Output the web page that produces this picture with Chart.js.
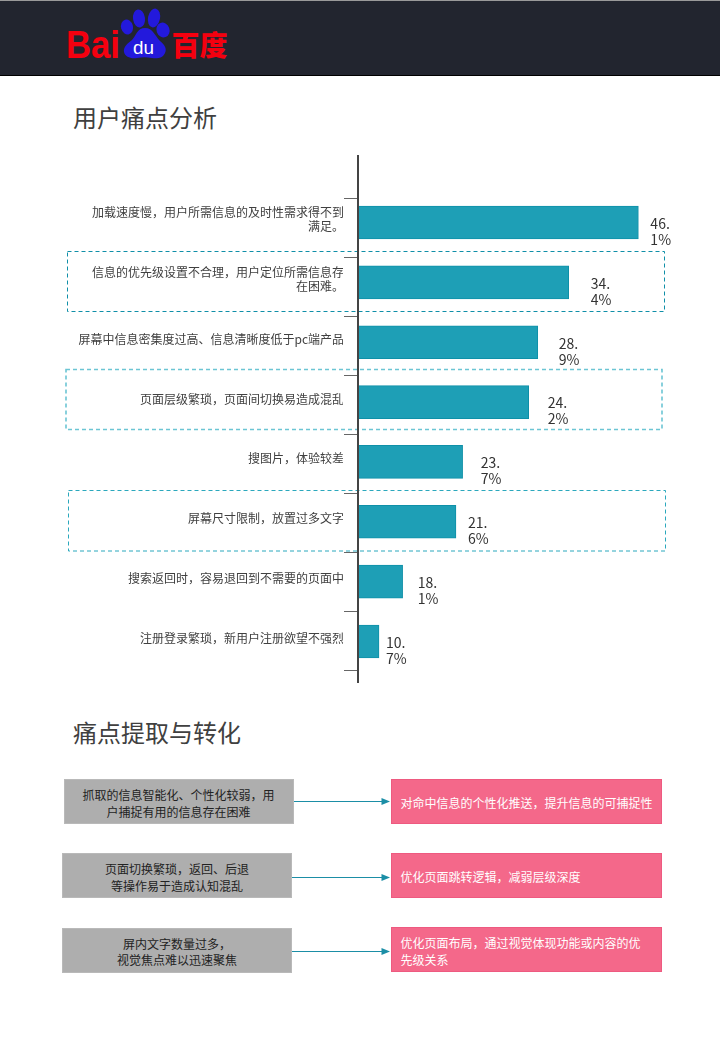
<!DOCTYPE html>
<html lang="zh">
<head>
<meta charset="utf-8">
<title>用户痛点分析</title>
<script src="https://cdn.jsdelivr.net/npm/chart.js@4/dist/chart.umd.js"></script>
<style>
  html, body { margin: 0; padding: 0; background: #fff; }
  body { position: relative; width: 720px; height: 1040px; overflow: hidden;
    font-family: "Noto Sans CJK SC", sans-serif; }
  #header { position: absolute; left: 0; top: 0; width: 720px; height: 74px; background: #22252f;
    border-top: 1px solid #9a9a9a; border-bottom: 1px solid #000; }
  #deco { position: absolute; left: 0; top: 0; }
  #chartBox { position: absolute; left: 0; top: 140px; width: 720px; height: 560px; }
  .title { position: absolute; left: 73px; font-size: 24px; line-height: 32px; color: #404040; font-weight: 400; }
  .box { position: absolute; box-sizing: border-box; height: 45px; font-size: 12px; line-height: 16.5px; display: flex; align-items: center; }
  .from { background: #aeaeae; border: 1px solid #b9b9b9; color: #222; justify-content: center; text-align: center; padding-top: 4px; }
  .to { background: #f4688a; border: 1px solid #ee5a80; color: #fff; padding: 4px 0 0 9px; }
</style>
</head>
<body>
<div id="header"></div>
<svg id="deco" width="720" height="1040" xmlns="http://www.w3.org/2000/svg"></svg>
<div class="title" style="top:101px">用户痛点分析</div>
<div class="title" style="top:716px">痛点提取与转化</div>
<div id="chartBox"><canvas id="chart" width="720" height="560"></canvas></div>
<script>
const categories = [
  ["加载速度慢，用户所需信息的及时性需求得不到", "满足。"],
  ["信息的优先级设置不合理，用户定位所需信息存", "在困难。"],
  "屏幕中信息密集度过高、信息清晰度低于pc端产品",
  "页面层级繁琐，页面间切换易造成混乱",
  "搜图片，体验较差",
  "屏幕尺寸限制，放置过多文字",
  "搜索返回时，容易退回到不需要的页面中",
  "注册登录繁琐，新用户注册欲望不强烈",
];
// bar lengths as drawn, they do not follow the printed percentages
const barValues = [46.1, 34.6, 29.5, 28.0, 17.1, 16.0, 7.2, 3.3];
const valueLabels = [["46.", "1%"], ["34.", "4%"], ["28.", "9%"], ["24.", "2%"], ["23.", "7%"], ["21.", "6%"], ["18.", "1%"], ["10.", "7%"]];
const painPoints = [
  ["抓取的信息智能化、个性化较弱，用", "户捕捉有用的信息存在困难"],
  ["页面切换繁琐，返回、后退", "等操作易于造成认知混乱"],
  ["屏内文字数量过多，", "视觉焦点难以迅速聚焦"],
];
const solutions = [
  ["对命中信息的个性化推送，提升信息的可捕捉性"],
  ["优化页面跳转逻辑，减弱层级深度"],
  ["优化页面布局，通过视觉体现功能或内容的优", "先级关系"],
];

// gap between bar end and its label, the original is hand placed
const labelGaps = [12, 22, 21, 19, 18, 12, 15, 7];

const valueLabelPlugin = {
  id: "valueLabels",
  afterDatasetsDraw(chart) {
    const ctx = chart.ctx;
    const meta = chart.getDatasetMeta(0);
    ctx.save();
    ctx.font = '14px "Noto Sans CJK SC"';
    ctx.fillStyle = "#333";
    ctx.textAlign = "left";
    ctx.textBaseline = "middle";
    meta.data.forEach(function (bar, i) {
      ctx.fillText(valueLabels[i][0], bar.x + labelGaps[i], bar.y + 1);
      ctx.fillText(valueLabels[i][1], bar.x + labelGaps[i], bar.y + 17);
    });
    ctx.restore();
  },
};

// vertical axis line runs past the plot on both ends
const axisLinePlugin = {
  id: "axisLine",
  afterDraw(chart) {
    const ctx = chart.ctx;
    const x = chart.chartArea.left - 1;
    ctx.save();
    ctx.strokeStyle = "#444";
    ctx.lineWidth = 2;
    ctx.beginPath();
    ctx.moveTo(x, 15);
    ctx.lineTo(x, 543);
    ctx.stroke();
    ctx.restore();
  },
};

new Chart(document.getElementById("chart"), {
  type: "bar",
  data: {
    labels: categories,
    datasets: [
      {
        data: barValues,
        backgroundColor: "#1e9fb6",
        borderColor: "#0f90a8",
        borderWidth: 1,
        barThickness: 33,
        yAxisID: "y",
      },
    ],
  },
  options: {
    indexAxis: "y",
    responsive: false,
    animation: false,
    layout: { padding: { left: 0, right: 58, top: 52.6, bottom: 28.6 } },
    plugins: { legend: { display: false }, tooltip: { enabled: false } },
    scales: {
      x: { display: false, min: 0, max: 50 },
      y: {
        position: "left",
        weight: 1,
        grid: { display: false, drawTicks: false },
        border: { display: false },
        afterFit(scale) {
          scale.width = 343;
        },
        ticks: {
          autoSkip: false,
          padding: -1,
          labelOffset: -3,
          color: "#404040",
          font: { family: '"Noto Sans CJK SC"', size: 12, lineHeight: 1.2 },
        },
      },
      // tick marks only, they sit on a slightly tighter step than the bars
      yMarks: {
        axis: "y",
        type: "linear",
        position: "left",
        weight: 0,
        reverse: true,
        offset: false,
        min: -0.097,
        max: 8.02,
        grid: { offset: false, drawOnChartArea: false, tickLength: 15, color: "#666" },
        border: { display: false },
        afterBuildTicks(scale) {
          scale.ticks = [0, 1, 2, 3, 4, 5, 6, 7, 8].map((v) => ({ value: v }));
        },
        afterFit(scale) {
          scale.width = 16;
        },
        ticks: { autoSkip: false, padding: 0, callback: () => "" },
      },
    },
  },
  plugins: [valueLabelPlugin, axisLinePlugin],
});

// flow boxes under the chart
const fromBoxes = [[63.5, 779], [62, 853], [62, 927.5]];
const toBoxes = [[390.5, 779], [390.5, 853], [390.5, 927]];
const arrowYs = [801.5, 877.5, 951.5];

function addBox(cls, pos, width, lines) {
  const el = document.createElement("div");
  el.className = "box " + cls;
  el.style.left = pos[0] + "px";
  el.style.top = pos[1] + "px";
  el.style.width = width + "px";
  const inner = document.createElement("div");
  lines.forEach(function (line, i) {
    if (i > 0) inner.appendChild(document.createElement("br"));
    inner.appendChild(document.createTextNode(line));
  });
  el.appendChild(inner);
  document.body.appendChild(el);
}
painPoints.forEach((lines, i) => addBox("from", fromBoxes[i], 230, lines));
solutions.forEach((lines, i) => addBox("to", toBoxes[i], 271.5, lines));

let svg = "";
// dashed highlight frames
svg += '<rect x="67.5" y="251.5" width="597" height="60" fill="none" stroke="#0f8fa8" stroke-width="1" stroke-dasharray="4 3"/>';
svg += '<rect x="66" y="369.5" width="596" height="60" fill="none" stroke="#6cc5d4" stroke-width="1.6" stroke-dasharray="4 3"/>';
svg += '<rect x="68.5" y="490.5" width="597" height="60.5" fill="none" stroke="#2ba8bd" stroke-width="1" stroke-dasharray="4 3"/>';
// arrows
arrowYs.forEach(function (y, i) {
  const x0 = fromBoxes[i][0] + 230;
  svg += '<line x1="' + x0 + '" y1="' + y + '" x2="384" y2="' + y + '" stroke="#1b8ea6" stroke-width="1"/>';
  svg += '<path d="M381.5 ' + (y - 3.5) + ' L390 ' + y + ' L381.5 ' + (y + 3.5) + ' Z" fill="#1b8ea6"/>';
});
// logo
svg += '<text x="66" y="57.5" font-family="Liberation Sans" font-weight="bold" font-size="39" fill="#f5000f" textLength="54" lengthAdjust="spacingAndGlyphs">Bai</text>';
svg += '<g fill="#2319dc">';
svg += '<ellipse cx="139" cy="18.5" rx="6" ry="9" transform="rotate(-8 139 18.5)"/>';
svg += '<ellipse cx="154" cy="18" rx="6" ry="9.5" transform="rotate(12 154 18)"/>';
svg += '<ellipse cx="127" cy="27" rx="6" ry="7.5" transform="rotate(-15 127 27)"/>';
svg += '<ellipse cx="163" cy="30" rx="6.5" ry="7.5" transform="rotate(-20 163 30)"/>';
svg += '<path d="M145 28 C153 28 155 36 160 41 C165 45 167 49 165 53 C163 58 157 59 152 58 C147 57 142 57 137 58 C131 59 125 57 124 52 C123 47 128 43 132 40 C136 36 137 28 145 28 Z"/>';
svg += "</g>";
svg += '<text x="133" y="54" font-family="Liberation Sans" font-size="18" fill="#fff" textLength="21" lengthAdjust="spacingAndGlyphs">du</text>';
svg += '<text x="171.5" y="55.5" font-family="Noto Sans CJK SC" font-weight="900" font-size="28" fill="#f5000f">百度</text>';
document.getElementById("deco").innerHTML = svg;
</script>
</body>
</html>
